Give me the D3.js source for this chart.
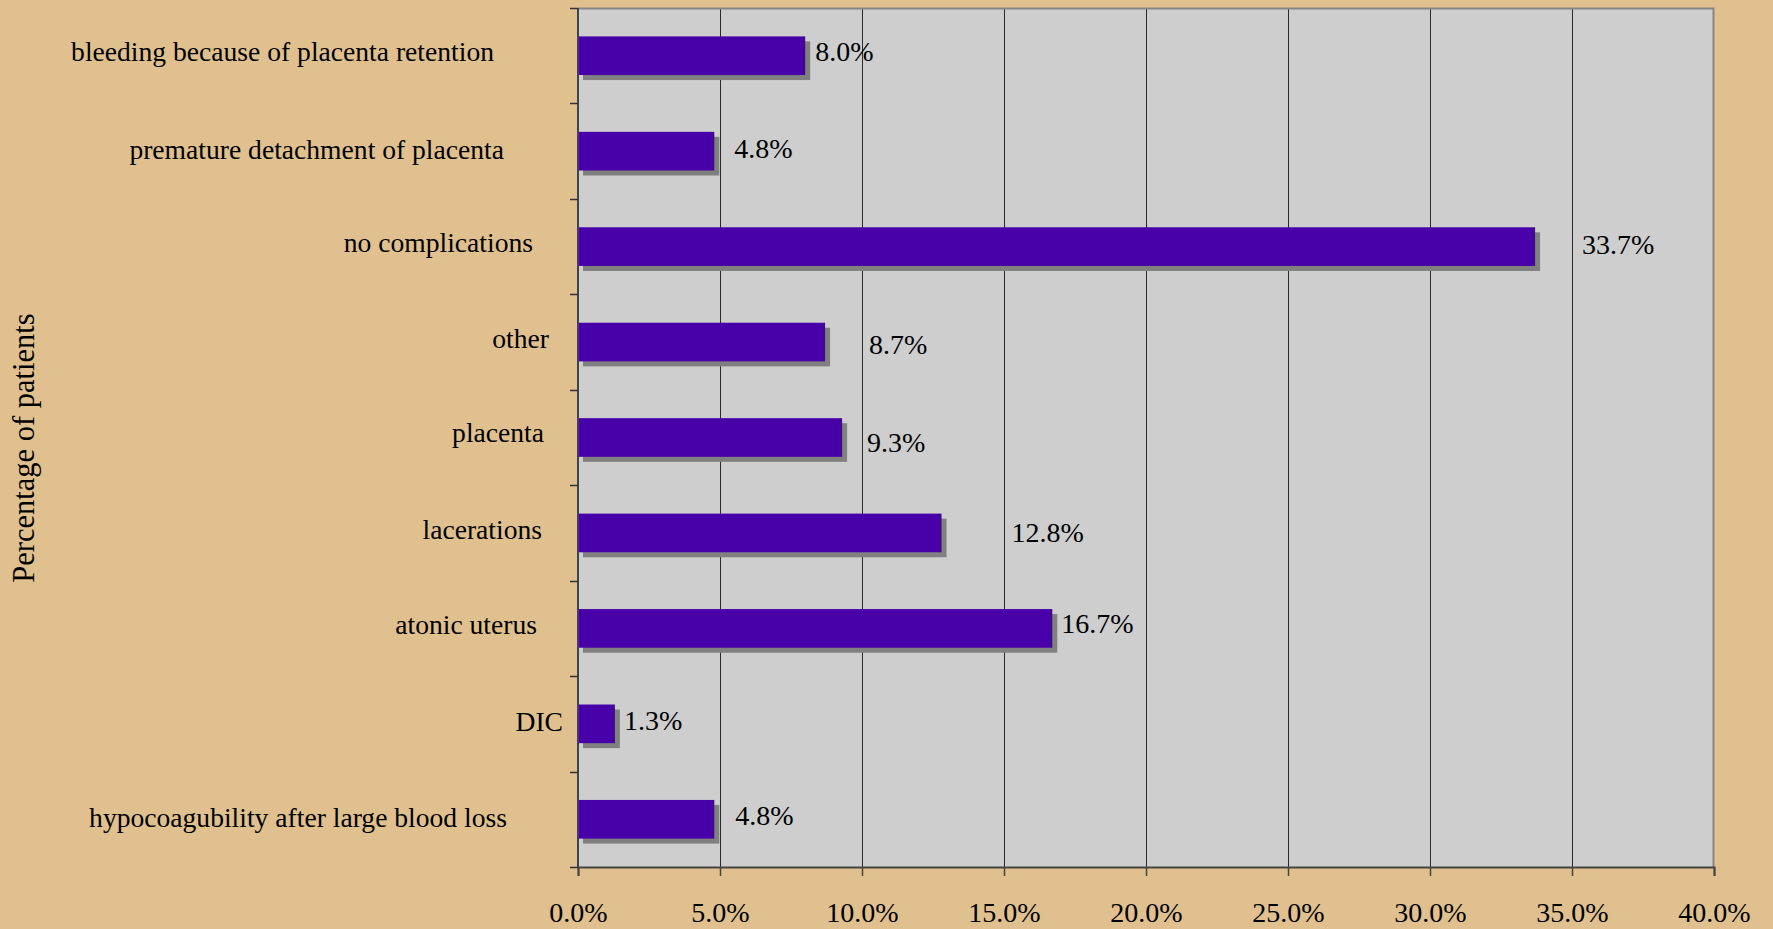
<!DOCTYPE html>
<html>
<head>
<meta charset="utf-8">
<script src="https://cdn.jsdelivr.net/npm/d3@7/dist/d3.min.js"></script>
<style>
  html, body { margin: 0; padding: 0; background: #E0C08E; }
  svg { display: block; }
  text { font-family: "Liberation Serif", "Times New Roman", serif; fill: #000; }
</style>
</head>
<body>
<svg id="chart" width="1773" height="929"></svg>
<script>
// Causes of complications, share of patients (%)
const categories = [
  "bleeding because of placenta retention",
  "premature detachment of placenta",
  "no complications",
  "other",
  "placenta",
  "lacerations",
  "atonic uterus",
  "DIC",
  "hypocoagubility after large blood loss"
];
const values = [8.0, 4.8, 33.7, 8.7, 9.3, 12.8, 16.7, 1.3, 4.8];
const xTicks = [0, 5, 10, 15, 20, 25, 30, 35, 40];
const axisTitle = "Percentage of patients";

// Hand-placed label offsets (px): value labels [dx from bar end, dy from band centre],
// category labels [gap to the axis, dy from band centre]
const valueLabelNudge = [[10, 5], [20, 7], [47, 7], [44, 12], [25, 14], [70, 9], [9, 5], [9, 6], [21, 6]];
const catLabelNudge = [[84, 5], [74, 8], [45, 5], [29, 6], [34, 4], [36, 6], [41, 6], [15, 7], [71, 8]];

const svg = d3.select("#chart");
const W = 1773, H = 929;
const plot = { left: 578, top: 8, right: 1714, bottom: 867 };

const x = d3.scaleLinear().domain([0, 40]).range([plot.left, plot.right]);
const y = d3.scaleBand().domain(categories).range([plot.top, plot.bottom])
  .paddingInner(0.595).paddingOuter(0.2975);
const step = y.step();

svg.append("rect").attr("width", W).attr("height", H).attr("fill", "#E0C08E");

// plot area
svg.append("rect")
  .attr("x", plot.left).attr("y", plot.top)
  .attr("width", plot.right - plot.left).attr("height", plot.bottom - plot.top)
  .attr("fill", "#CECECE");

// vertical gridlines
svg.append("g").selectAll("line")
  .data(xTicks.slice(1, -1))
  .join("line")
  .attr("x1", d => Math.round(x(d)) + 0.5).attr("x2", d => Math.round(x(d)) + 0.5)
  .attr("y1", plot.top).attr("y2", plot.bottom)
  .attr("stroke", "#2a2a2a").attr("stroke-width", 1);

// top and right frame
svg.append("path")
  .attr("d", `M${plot.left},${plot.top + 0.5}H${plot.right - 0.5}V${plot.bottom}`)
  .attr("fill", "none").attr("stroke", "#858585").attr("stroke-width", 2);

// bars with drop shadow
const bars = svg.append("g");
bars.selectAll("rect.shadow")
  .data(values)
  .join("rect")
  .attr("class", "shadow")
  .attr("x", x(0) + 5)
  .attr("y", (d, i) => y(categories[i]) + 5)
  .attr("width", d => x(d) - x(0))
  .attr("height", y.bandwidth())
  .attr("fill", "#808080");
bars.selectAll("rect.bar")
  .data(values)
  .join("rect")
  .attr("class", "bar")
  .attr("x", x(0))
  .attr("y", (d, i) => y(categories[i]))
  .attr("width", d => x(d) - x(0))
  .attr("height", y.bandwidth())
  .attr("fill", "#4800A8");

// value labels
svg.append("g").selectAll("text")
  .data(values)
  .join("text")
  .attr("x", (d, i) => x(d) + valueLabelNudge[i][0])
  .attr("y", (d, i) => y(categories[i]) + y.bandwidth() / 2 + valueLabelNudge[i][1])
  .attr("font-size", 28)
  .text(d => d3.format(".1f")(d) + "%");

// x axis
const xAxis = d3.axisBottom(x)
  .tickValues(xTicks)
  .tickSize(9)
  .tickFormat(d => d3.format(".1f")(d) + "%");
const gx = svg.append("g").attr("transform", `translate(0,${plot.bottom})`).call(xAxis);
gx.select(".domain").attr("stroke", "#444").attr("stroke-width", 2);
gx.selectAll(".tick line").attr("stroke", "#444").attr("stroke-width", 1.5);
gx.selectAll(".tick text")
  .attr("font-family", "Liberation Serif, Times New Roman, serif")
  .attr("font-size", 28).attr("fill", "#000")
  .attr("dy", null).attr("y", 54.5);

// y axis: line and ticks at category boundaries
const gy = svg.append("g");
gy.append("line")
  .attr("x1", plot.left).attr("x2", plot.left)
  .attr("y1", plot.top).attr("y2", plot.bottom + 1)
  .attr("stroke", "#444").attr("stroke-width", 2);
const bounds = d3.range(categories.length + 1).map(i => plot.top + i * step);
gy.selectAll("line.tick")
  .data(bounds)
  .join("line")
  .attr("class", "tick")
  .attr("x1", plot.left - 8).attr("x2", plot.left)
  .attr("y1", d => Math.round(d) + 0.5).attr("y2", d => Math.round(d) + 0.5)
  .attr("stroke", "#333").attr("stroke-width", 1.5);

// category labels
gy.selectAll("text")
  .data(categories)
  .join("text")
  .attr("x", (d, i) => plot.left - catLabelNudge[i][0])
  .attr("y", (d, i) => y(d) + y.bandwidth() / 2 + catLabelNudge[i][1])
  .attr("text-anchor", "end")
  .attr("font-size", 27.6)
  .text(d => d);

// axis title
svg.append("text")
  .attr("transform", "translate(34,448) rotate(-90)")
  .attr("text-anchor", "middle")
  .attr("font-size", 30.5)
  .text(axisTitle);
</script>
</body>
</html>
